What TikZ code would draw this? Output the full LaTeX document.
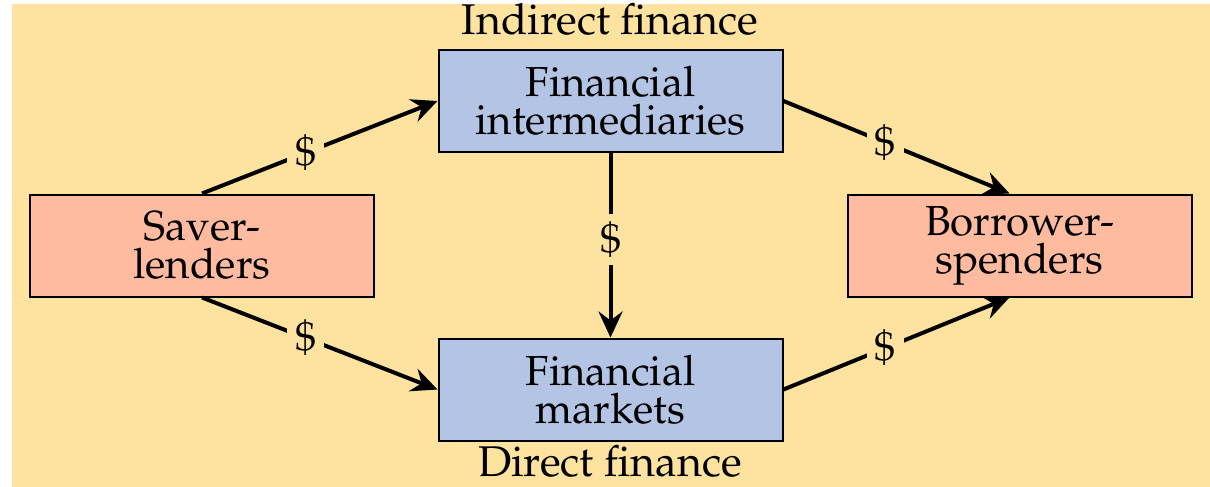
\documentclass[tikz,border=0pt]{standalone}
\usepackage[T1]{fontenc}
\usepackage{mathpazo}
\usetikzlibrary{arrows.meta}
\definecolor{bgyellow}{RGB}{254,226,160}
\definecolor{boxblue}{RGB}{179,196,228}
\definecolor{boxpink}{RGB}{254,187,160}
\tikzset{
  fbox/.style={draw=black, line width=1pt, minimum width=172pt, minimum height=51pt,
    align=center, inner sep=0pt, font=\fontsize{21}{19}\selectfont},
  bluebox/.style={fbox, fill=boxblue},
  pinkbox/.style={fbox, fill=boxpink},
  flow/.style={line width=2pt, -{Stealth[length=13pt, width=12pt, inset=4.5pt]}},
  dollar/.style={fill=bgyellow, inner sep=4pt, font=\fontsize{21}{21}\selectfont},
  caption/.style={font=\fontsize{21.5}{21.5}\selectfont, inner sep=0pt, anchor=base}
}
\begin{document}
\begin{tikzpicture}[x=0.5pt, y=-0.5pt]
\useasboundingbox (0,0) rectangle (1210,487);
\fill[white] (0,0) rectangle (1210,487);
\fill[bgyellow] (12,4) rectangle (1210,487);
\node[bluebox] (T) at (610.5,101) {Financial\\intermediaries};
\node[bluebox] (M) at (610.5,389.5) {Financial\\markets};
\node[pinkbox] (S) at (202,245.5) {Saver-\\lenders};
\node[pinkbox] (B) at (1019.5,245.5) {Borrower-\\spenders};
\node[caption] (ind) at (610,34) {Indirect finance};
\node[caption] (dir) at (610,476) {Direct finance};
\draw[flow] (S.north) -- node[dollar, pos=0.44] {\$} (T.west);
\draw[flow] (S.south) -- node[dollar, pos=0.44] {\$} (M.west);
\draw[flow] (T.east) -- node[dollar, pos=0.45] {\$} ([xshift=-5pt]B.north);
\draw[flow] (M.east) -- node[dollar, pos=0.45] {\$} ([xshift=-5pt]B.south);
\draw[flow] (T.south) -- node[dollar, pos=0.47] {\$} (M.north);
\end{tikzpicture}
\end{document}
